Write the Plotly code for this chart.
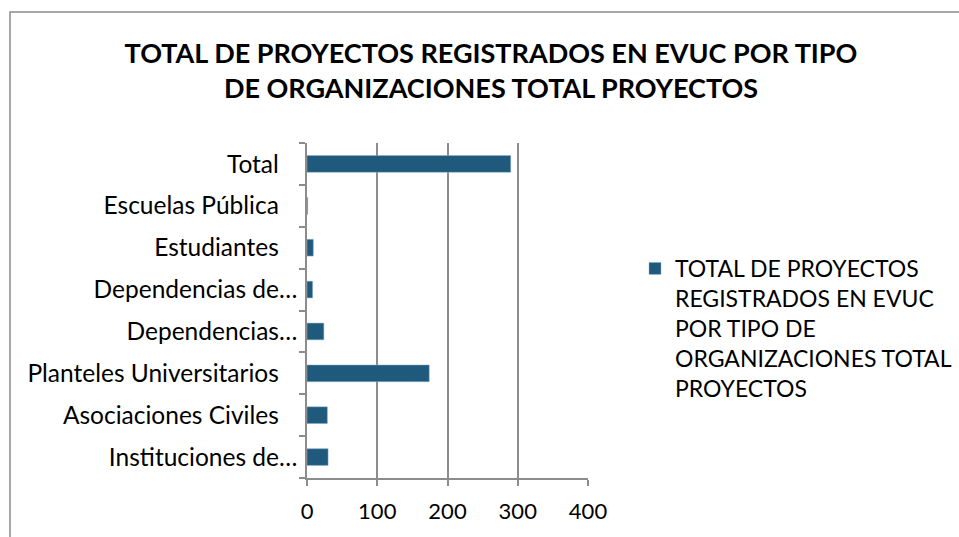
import plotly.graph_objects as go

categories = ["Instituciones de…", "Asociaciones Civiles", "Planteles Universitarios",
              "Dependencias…", "Dependencias de…", "Estudiantes", "Escuelas Pública", "Total"]
values = [30, 29, 174, 24, 8, 9, 1, 290]
series_name = "TOTAL DE PROYECTOS<br>REGISTRADOS EN EVUC<br>POR TIPO DE<br>ORGANIZACIONES TOTAL<br>PROYECTOS"
title_text = "<b>TOTAL DE PROYECTOS REGISTRADOS EN EVUC POR TIPO<br>DE ORGANIZACIONES TOTAL PROYECTOS</b>"
x_ticks = [0, 100, 200, 300, 400]

W, H = 959, 537
L, R, T, B = 307, 588, 143, 478
pw, ph = R - L, B - T

def px(x):
    return (x - L) / pw

def py(y):
    return (B - y) / ph

# labels without an ellipsis keep a trailing gap, as in the original chart
tick_text = [c if c.endswith("…") else c + "\u2002\u00a0" for c in categories]

FONT = "Lato, Carlito, Calibri, sans-serif"
GRID = "#8C8C8C"

fig = go.Figure()
fig.add_trace(go.Bar(
    y=categories, x=values, orientation="h", name=series_name,
    marker=dict(color="#1F5A7D", line=dict(color="#8FB3CC", width=0.5)),
    showlegend=True,
))

fig.update_layout(
    width=W, height=H,
    margin=dict(l=L, r=W - R, t=T, b=H - B, autoexpand=False),
    paper_bgcolor="white", plot_bgcolor="white",
    font=dict(family=FONT, color="black"),
    bargap=0.6,
    title=dict(text=title_text, xref="container", yref="container", x=491 / W, xanchor="center",
               y=1 - 63 / H, yanchor="middle",
               font=dict(size=27, family=FONT, color="black")),
    xaxis=dict(range=[0, 400], tickvals=x_ticks, showgrid=True, gridcolor=GRID, gridwidth=1.5,
               showline=True, linecolor=GRID, linewidth=1.5, ticks="outside", ticklen=6,
               tickcolor=GRID, tickwidth=1.5, tickfont=dict(size=22), zeroline=False,
               ticklabelstandoff=7, fixedrange=True),
    yaxis=dict(categoryorder="array", categoryarray=categories, tickvals=categories, ticktext=tick_text,
               showline=True, linecolor=GRID,
               linewidth=1.5, ticks="outside", ticklen=6, tickcolor=GRID, tickwidth=1.5,
               tickson="boundaries", tickfont=dict(size=24.5), showgrid=False, ticklabelstandoff=3,
               fixedrange=True),
    legend=dict(x=px(635), y=py(247), xanchor="left", yanchor="top", font=dict(size=23),
                bgcolor="rgba(0,0,0,0)", valign="top", tracegroupgap=0),
    shapes=[dict(type="rect", xref="paper", yref="paper", x0=px(10), x1=px(970), y0=py(550), y1=py(12),
                 line=dict(color=GRID, width=1.5), fillcolor="rgba(0,0,0,0)", layer="below")],
)

fig.write_html("out.html")
